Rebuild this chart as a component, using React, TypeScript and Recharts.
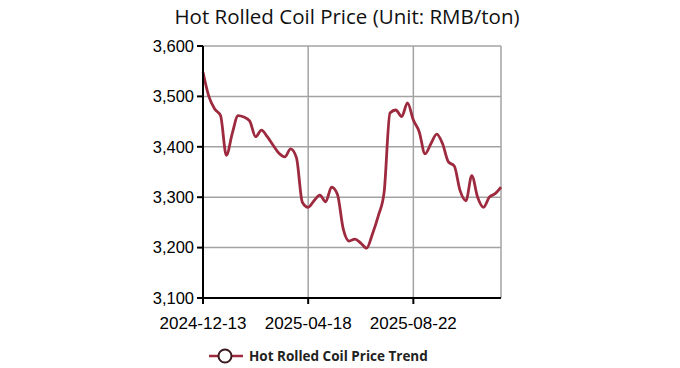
import React from 'react';
import { LineChart, Line, XAxis, YAxis, CartesianGrid, Legend } from 'recharts';

const dates = [
  '2024-12-13', '2024-12-20', '2024-12-27', '2025-01-03', '2025-01-10', '2025-01-17',
  '2025-01-24', '2025-01-31', '2025-02-07', '2025-02-14', '2025-02-21', '2025-02-28',
  '2025-03-07', '2025-03-14', '2025-03-21', '2025-03-28', '2025-04-04', '2025-04-11',
  '2025-04-18', '2025-04-25', '2025-05-02', '2025-05-09', '2025-05-16', '2025-05-23',
  '2025-05-30', '2025-06-06', '2025-06-13', '2025-06-20', '2025-06-27', '2025-07-04',
  '2025-07-11', '2025-07-18', '2025-07-25', '2025-08-01', '2025-08-08', '2025-08-15',
  '2025-08-22', '2025-08-29', '2025-09-05', '2025-09-12', '2025-09-19', '2025-09-26',
  '2025-10-03', '2025-10-10', '2025-10-17', '2025-10-24', '2025-10-31', '2025-11-07',
  '2025-11-14', '2025-11-21', '2025-11-28', '2025-12-05',
];

const prices = [
  3548, 3500, 3475, 3462, 3383, 3426, 3462, 3459, 3451, 3420, 3433, 3420,
  3403, 3387, 3380, 3396, 3378, 3290, 3280, 3293, 3304, 3291, 3320, 3306,
  3237, 3213, 3217, 3209, 3199, 3227, 3263, 3310, 3467, 3473, 3460, 3487,
  3453, 3430, 3386, 3406, 3425, 3406, 3370, 3362, 3313, 3293, 3343, 3300,
  3280, 3300, 3307, 3320,
];

const yTicks = [3100, 3200, 3300, 3400, 3500, 3600];

const title = 'Hot Rolled Coil Price (Unit: RMB/ton)';
const seriesName = 'Hot Rolled Coil Price Trend';
const lineColor = '#9e2a3f';

const data = dates.map((d, i) => ({ date: d, price: prices[i] }));

const LegendContent = () => (
  <div style={{ display: 'flex', alignItems: 'center', fontFamily: '"Open Sans", sans-serif' }}>
    <svg width={34} height={18} style={{ marginRight: 6 }}>
      <line x1={0} y1={9} x2={34} y2={9} stroke={lineColor} strokeWidth={2.5} />
      <circle cx={16} cy={9} r={6.5} fill="#fff" stroke="#3a1a20" strokeWidth={2} />
    </svg>
    <span style={{ fontSize: 13.5, fontWeight: 700, color: '#222' }}>{seriesName}</span>
  </div>
);

export default function App() {
  return (
    <div style={{ position: 'absolute', left: 0, top: 0, width: 680, height: 368, background: '#fff' }}>
      <div
        style={{
          position: 'absolute',
          left: 97,
          top: 2,
          width: 500,
          textAlign: 'center',
          fontFamily: '"Open Sans", sans-serif',
          fontSize: 20.5,
          color: '#111',
          whiteSpace: 'nowrap',
        }}
      >
        {title}
      </div>
      <LineChart
        width={680}
        height={368}
        data={data}
        margin={{ top: 46, right: 179, bottom: 40, left: 143 }}
      >
        <CartesianGrid stroke="#a3a3a3" strokeWidth={1.5} />
        <XAxis
          dataKey="date"
          interval={17}
          tickSize={6}
          tickMargin={13}
          height={30}
          axisLine={{ stroke: '#000', strokeWidth: 2 }}
          tickLine={{ stroke: '#000', strokeWidth: 2 }}
          tick={{ fill: '#000', fontSize: 17, fontFamily: '"Liberation Sans", Arial, sans-serif' }}
        />
        <YAxis
          domain={[3100, 3600]}
          ticks={yTicks}
          width={60}
          tickSize={6}
          tickMargin={3}
          axisLine={{ stroke: '#000', strokeWidth: 2 }}
          tickLine={{ stroke: '#000', strokeWidth: 2 }}
          tickFormatter={(v: number) => v.toLocaleString('en-US')}
          tick={{ fill: '#000', fontSize: 16.5, fontFamily: '"Liberation Sans", Arial, sans-serif' }}
        />
        <Legend
          layout="horizontal"
          verticalAlign="middle"
          align="center"
          content={<LegendContent />}
          wrapperStyle={{ position: 'absolute', left: 209, top: 347, width: 'auto' }}
        />
        <Line
          type="monotone"
          dataKey="price"
          name={seriesName}
          stroke={lineColor}
          strokeWidth={2.8}
          dot={false}
          isAnimationActive={false}
        />
      </LineChart>
    </div>
  );
}
